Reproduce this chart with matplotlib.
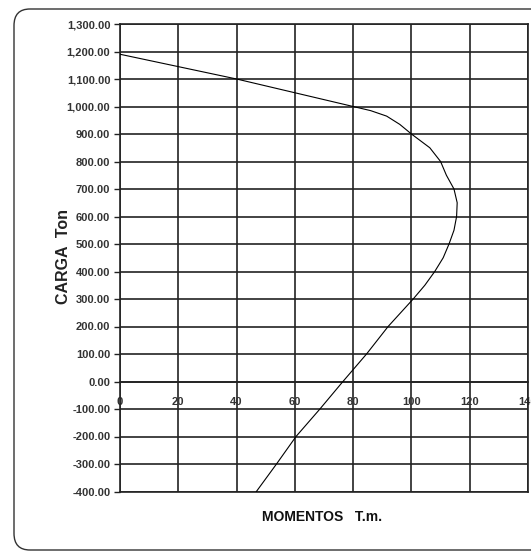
import numpy as np
import matplotlib
matplotlib.use("Agg")
import matplotlib.pyplot as plt
from matplotlib.patches import FancyBboxPatch

# curve: moment (T.m) vs load (Ton)
momentos = [0, 40, 80, 86, 91.5, 96, 100, 106.3, 110, 112, 114.6, 115.7, 115.5,
            114.6, 112.9, 110.9, 108, 104.6, 100.6, 92, 84.6, 76.5, 68.6, 60.4,
            53.7, 46.8]
carga = [1190, 1100, 1000, 985, 965, 935, 900, 850, 800, 750, 700, 650, 600,
         550, 500, 450, 400, 350, 300, 200, 100, 0, -100, -200, -300, -400]

x_ticks = [0, 20, 40, 60, 80, 100, 120, 140]
y_ticks = list(range(-400, 1301, 100))

plt.rcParams['font.family'] = ['Liberation Sans', 'DejaVu Sans']

fig = plt.figure(figsize=(5.31, 5.53), dpi=100)
ax = fig.add_axes([120/531, 1-491.5/553, 408/531, 467.5/553])

# rounded outer frame
frame = FancyBboxPatch((14/531, 3/553), 535/531, 541/553,
                       boxstyle="round,pad=0,rounding_size=0.03",
                       transform=fig.transFigure, fill=False,
                       ec='#333333', lw=1.0, clip_on=False)
fig.patches.append(frame)

ax.plot(momentos, carga, color='black', lw=0.8, zorder=3)

ax.set_xlim(0, 140)
ax.set_ylim(-400, 1300)
ax.set_xticks(x_ticks)
ax.set_yticks(y_ticks)
ax.set_yticklabels(['{:,.2f}'.format(v) for v in y_ticks])
ax.set_xticklabels([str(v) for v in x_ticks])
ax.grid(True, color='#222222', lw=1.2)
ax.set_axisbelow(True)

ax.spines['bottom'].set_position(('data', 0))
for s in ['top', 'left', 'right', 'bottom']:
    ax.spines[s].set_color('#222222')
    ax.spines[s].set_linewidth(1.2)
ax.axhline(-400, color='#222222', lw=1.2, clip_on=False)

ax.tick_params(axis='y', length=4, width=1, color='#222222', pad=3,
               labelsize=8, labelcolor='#333333')
ax.tick_params(axis='x', length=0, pad=11, labelsize=8, labelcolor='#333333')
for lab in ax.get_xticklabels() + ax.get_yticklabels():
    lab.set_fontweight('bold')

fig.text(63/531, 1-257/553, 'CARGA  Ton', rotation=90, ha='center', va='center',
         fontsize=11.5, fontweight='bold', color='#222222')
fig.text(322/531, 1-517/553, 'MOMENTOS   T.m.', ha='center', va='center',
         fontsize=10, fontweight='bold', color='#111111')

fig.savefig('out.png', dpi=100)
